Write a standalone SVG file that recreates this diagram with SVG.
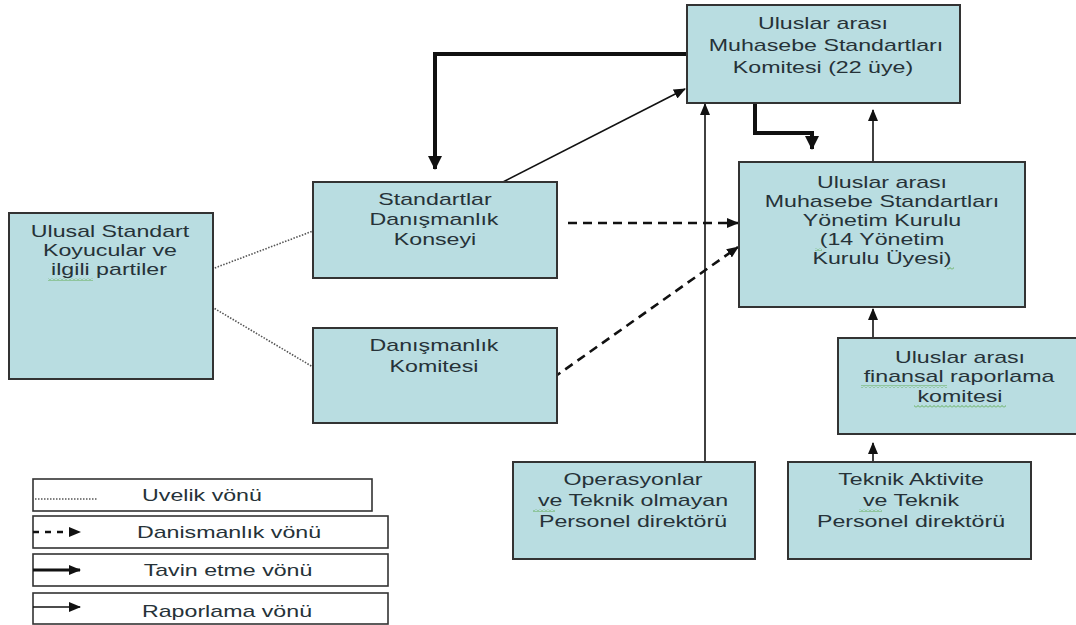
<svg xmlns="http://www.w3.org/2000/svg" width="1076" height="625" viewBox="0 0 1076 625">
<style>
.box{fill:#b9dde1;stroke:#333;stroke-width:2}
.lg{fill:#fff;stroke:#333;stroke-width:1.6}
.t{font-family:"Liberation Sans",Arial,Helvetica,sans-serif;font-size:16px;fill:#263238;text-anchor:middle}
.thin{fill:none;stroke:#111;stroke-width:1.6}
.thick{fill:none;stroke:#111;stroke-width:4}
.dash{fill:none;stroke:#111;stroke-width:2.6;stroke-dasharray:9 6}
.dot{fill:none;stroke:#555;stroke-width:1.6;stroke-dasharray:1.5 1.5}
.sq{fill:url(#squig)}
</style>
<defs>
<marker id="ah" markerUnits="userSpaceOnUse" markerWidth="12" markerHeight="10" refX="11" refY="5" orient="auto">
<path d="M0,0 L12,5 L0,10 z" fill="#111"/>
</marker>
<marker id="ahb" markerUnits="userSpaceOnUse" markerWidth="14" markerHeight="14" refX="13" refY="7" orient="auto">
<path d="M0,0 L14,7 L0,14 z" fill="#111"/>
</marker>
<pattern id="squig" patternUnits="userSpaceOnUse" width="4" height="3">
<path d="M0,2.5 L2,0.5 L4,2.5" fill="none" stroke="#5aa84a" stroke-width="0.9"/>
</pattern>
</defs>
<rect width="1076" height="625" fill="#fff"/>

<g id="connectors">
<path class="thick" d="M687,54 H435 V169" marker-end="url(#ahb)"/>
<path class="thin" d="M503,182 L685,89" marker-end="url(#ah)"/>
<path class="thick" d="M755,103 V133 H812 V149" marker-end="url(#ahb)"/>
<path class="thin" d="M873,162 V110" marker-end="url(#ah)"/>
<path class="thin" d="M705,462 V104" marker-end="url(#ah)"/>
<path class="thin" d="M873,338 V309" marker-end="url(#ah)"/>
<path class="thin" d="M873,462 V443" marker-end="url(#ah)"/>
<path class="dash" d="M568,223 H738" marker-end="url(#ah)"/>
<path class="dash" d="M553,378 L738,247" marker-end="url(#ah)"/>
<path class="dot" d="M212,269 L313,231"/>
<path class="dot" d="M212,307 L313,367"/>
</g>

<g id="iasc">
<rect class="box" x="687" y="5" width="273" height="98"/>
<text class="t" transform="translate(823,29) scale(1.45,1)">Uluslar arası</text>
<text class="t" transform="translate(826,51) scale(1.45,1)">Muhasebe Standartları</text>
<text class="t" transform="translate(823,73) scale(1.45,1)">Komitesi (22 üye)</text>
</g>

<g id="iasb">
<rect class="box" x="739" y="162" width="286" height="145"/>
<text class="t" transform="translate(882,188) scale(1.45,1)">Uluslar arası</text>
<text class="t" transform="translate(882,207) scale(1.45,1)">Muhasebe Standartları</text>
<text class="t" transform="translate(882,226) scale(1.45,1)">Yönetim Kurulu</text>
<text class="t" transform="translate(882,245) scale(1.45,1)">(14 Yönetim</text>
<text class="t" transform="translate(882,264) scale(1.45,1)">Kurulu Üyesi)</text>
<rect class="sq" x="815" y="248" width="7" height="3"/>
<rect class="sq" x="947" y="267" width="7" height="3"/>
</g>

<g id="ulusal">
<rect class="box" x="9" y="213" width="204" height="166"/>
<text class="t" transform="translate(110,237) scale(1.45,1)">Ulusal Standart</text>
<text class="t" transform="translate(110,256) scale(1.45,1)">Koyucular ve</text>
<text class="t" transform="translate(109,275) scale(1.45,1)">ilgili partiler</text>
<rect class="sq" x="48" y="278" width="45" height="3"/>
</g>

<g id="sdk">
<rect class="box" x="313" y="182" width="244" height="96"/>
<text class="t" transform="translate(435,205) scale(1.45,1)">Standartlar</text>
<text class="t" transform="translate(434,225) scale(1.45,1)">Danışmanlık</text>
<text class="t" transform="translate(435,245) scale(1.45,1)">Konseyi</text>
</g>

<g id="dk">
<rect class="box" x="313" y="328" width="244" height="95"/>
<text class="t" transform="translate(434,351) scale(1.45,1)">Danışmanlık</text>
<text class="t" transform="translate(434,372) scale(1.45,1)">Komitesi</text>
</g>

<g id="ifrc">
<rect class="box" x="838" y="338" width="242" height="96"/>
<text class="t" transform="translate(960,363) scale(1.45,1)">Uluslar arası</text>
<text class="t" transform="translate(959,382) scale(1.45,1)">finansal raporlama</text>
<text class="t" transform="translate(960,402) scale(1.45,1)">komitesi</text>
<rect class="sq" x="861" y="385" width="86" height="3"/>
<rect class="sq" x="914" y="405" width="92" height="3"/>
</g>

<g id="ops">
<rect class="box" x="513" y="462" width="242" height="97"/>
<text class="t" transform="translate(633,485) scale(1.45,1)">Operasyonlar</text>
<text class="t" transform="translate(633,506) scale(1.45,1)">ve Teknik olmayan</text>
<text class="t" transform="translate(633,527) scale(1.45,1)">Personel direktörü</text>
<rect class="sq" x="533" y="509" width="22" height="3"/>
</g>

<g id="teknik">
<rect class="box" x="788" y="462" width="243" height="97"/>
<text class="t" transform="translate(911,485) scale(1.45,1)">Teknik Aktivite</text>
<text class="t" transform="translate(911,506) scale(1.45,1)">ve Teknik</text>
<text class="t" transform="translate(911,527) scale(1.45,1)">Personel direktörü</text>
<rect class="sq" x="859" y="509" width="23" height="3"/>
</g>

<g id="legend">
<rect class="lg" x="33" y="479" width="339" height="32"/>
<path class="dot" d="M35,499 H97"/>
<text class="t" transform="translate(202,501) scale(1.45,1)">Uvelik vönü</text>
<rect class="lg" x="33" y="516" width="355" height="32"/>
<path class="dash" d="M33,532 H80" style="stroke-dasharray:6 6" marker-end="url(#ah)"/>
<text class="t" transform="translate(229,538) scale(1.45,1)">Danismanlık vönü</text>
<rect class="lg" x="33" y="554" width="355" height="32"/>
<path class="thick" d="M33,570 H80" style="stroke-width:3" marker-end="url(#ah)"/>
<text class="t" transform="translate(228,576) scale(1.45,1)">Tavin etme vönü</text>
<rect class="lg" x="33" y="593" width="355" height="31"/>
<path class="thin" d="M33,607 H80" marker-end="url(#ah)"/>
<text class="t" transform="translate(227,617) scale(1.45,1)">Raporlama vönü</text>
</g>
</svg>
